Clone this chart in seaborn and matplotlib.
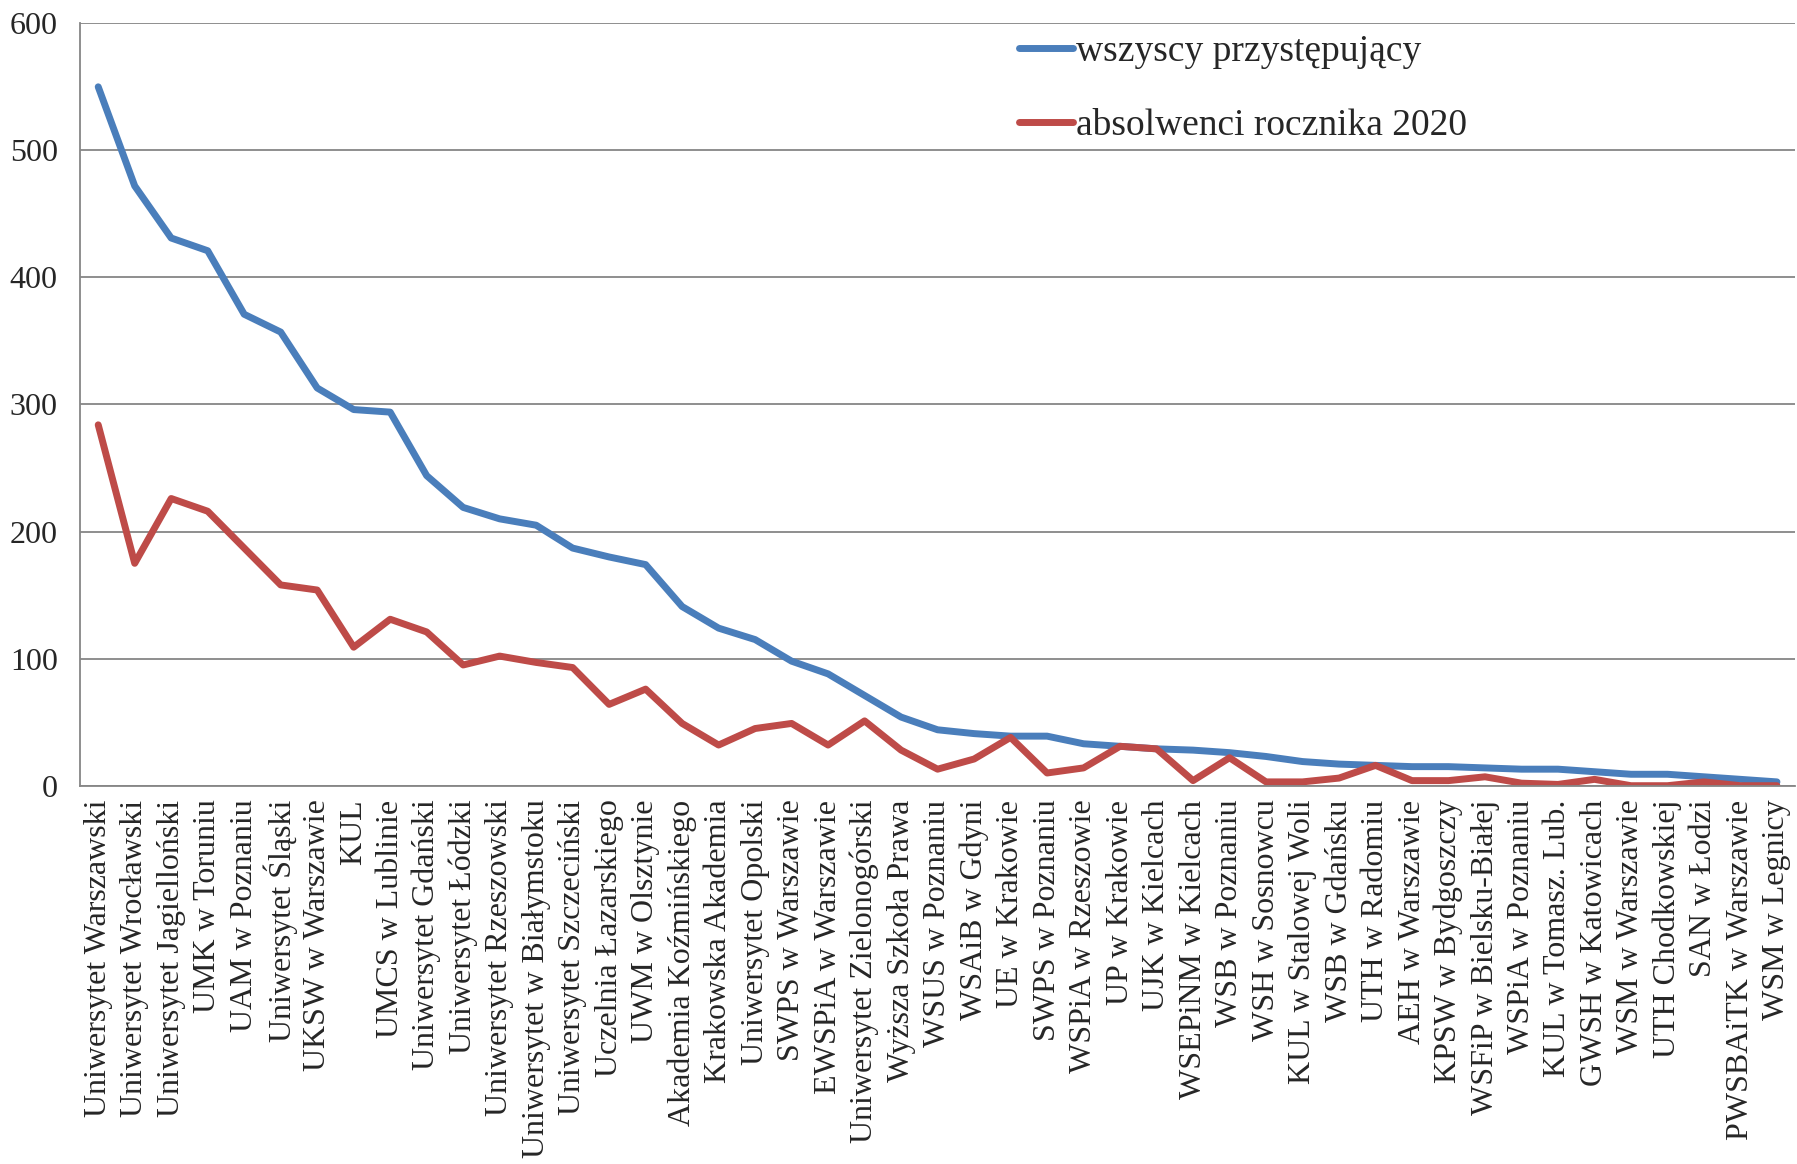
import matplotlib
matplotlib.use("Agg")
import matplotlib.pyplot as plt
import seaborn as sns
import numpy as np
import pandas as pd

uczelnie = [
    "Uniwersytet Warszawski", "Uniwersytet Wrocławski", "Uniwersytet Jagielloński",
    "UMK w Toruniu", "UAM w Poznaniu", "Uniwersytet Śląski", "UKSW w Warszawie",
    "KUL", "UMCS w Lublinie", "Uniwersytet Gdański", "Uniwersytet Łódzki",
    "Uniwersytet Rzeszowski", "Uniwersytet w Białymstoku", "Uniwersytet Szczeciński",
    "Uczelnia Łazarskiego", "UWM w Olsztynie", "Akademia Koźmińskiego",
    "Krakowska Akademia", "Uniwersytet Opolski", "SWPS w Warszawie",
    "EWSPiA w Warszawie", "Uniwersytet Zielonogórski", "Wyższa Szkoła Prawa",
    "WSUS w Poznaniu", "WSAiB w Gdyni", "UE w Krakowie", "SWPS w Poznaniu",
    "WSPiA w Rzeszowie", "UP w Krakowie", "UJK w Kielcach", "WSEPiNM w Kielcach",
    "WSB w Poznaniu", "WSH w Sosnowcu", "KUL w Stalowej Woli", "WSB w Gdańsku",
    "UTH w Radomiu", "AEH w Warszawie", "KPSW w Bydgoszczy",
    "WSFiP w Bielsku-Białej", "WSPiA w Poznaniu", "KUL w Tomasz. Lub.",
    "GWSH w Katowicach", "WSM w Warszawie", "UTH Chodkowskiej", "SAN w Łodzi",
    "PWSBAiTK w Warszawie", "WSM w Legnicy",
]

wszyscy = [550, 472, 431, 421, 371, 357, 313, 296, 294, 244, 219, 210, 205, 187,
           180, 174, 141, 124, 115, 98, 88, 71, 54, 44, 41, 39, 39, 33, 31, 29,
           28, 26, 23, 19, 17, 16, 15, 15, 14, 13, 13, 11, 9, 9, 7, 5, 3]

absolwenci = [284, 175, 226, 216, 187, 158, 154, 109, 131, 121, 95, 102, 97, 93,
              64, 76, 49, 32, 45, 49, 32, 51, 28, 13, 21, 38, 10, 14, 31, 29,
              4, 22, 3, 3, 6, 16, 4, 4, 7, 2, 1, 5, 0, 0, 3, 0, 0]

serie = ["wszyscy przystępujący", "absolwenci rocznika 2020"]
kolory = ["#4A7EBB", "#BE4B48"]

pos = np.arange(len(uczelnie))
df = pd.concat([
    pd.DataFrame({"poz": pos, "liczba": wszyscy, "seria": serie[0]}),
    pd.DataFrame({"poz": pos, "liczba": absolwenci, "seria": serie[1]}),
])

sns.set_style("white")
plt.rcParams["font.family"] = ["Liberation Serif", "DejaVu Serif"]

fig = plt.figure(figsize=(17.97, 11.64), dpi=100)
ax = fig.add_axes([0.0445, 0.325, 0.9545, 0.655])

sns.lineplot(data=df, x="poz", y="liczba", hue="seria", palette=kolory,
             linewidth=5, ax=ax, legend=True)

ax.set_xlim(-0.5, len(uczelnie) - 0.5)
ax.set_ylim(0, 600)
ax.set_yticks(range(0, 601, 100))
ax.yaxis.grid(True, color="#868686", linewidth=1.3)
ax.set_axisbelow(True)
ax.set_xlabel("")
ax.set_ylabel("")

ax.set_xticks(pos)
ax.set_xticklabels(uczelnie, rotation=90, fontsize=23)
ax.set_xticks(np.arange(-0.5, len(uczelnie), 1), minor=True)
ax.tick_params(axis="x", which="major", length=0, pad=10)
ax.tick_params(axis="x", which="minor", length=9, width=1.3, color="#868686",
               direction="out")
ax.tick_params(axis="y", length=8, width=1.3, color="#868686", labelsize=23,
               direction="out", pad=8)

for s in ["top", "right"]:
    ax.spines[s].set_visible(False)
for s in ["left", "bottom"]:
    ax.spines[s].set_color("#868686")
    ax.spines[s].set_linewidth(1.3)

leg = ax.legend(loc="upper left", bbox_to_anchor=(0.545, 0.99), frameon=False,
                fontsize=27, handlelength=1.45, handletextpad=0.08,
                labelspacing=1.05, borderaxespad=0.0, borderpad=0.1)
for h in leg.get_lines():
    h.set_linewidth(5)

fig.savefig("out.png", dpi=100)
plt.close(fig)
